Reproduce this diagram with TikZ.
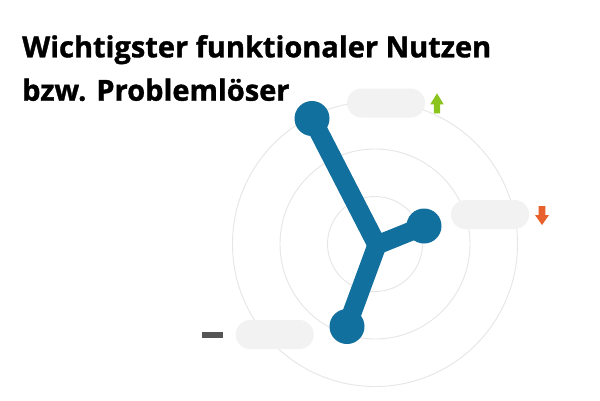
\documentclass[tikz,border=0pt]{standalone}
\usepackage{fontspec}
\setmainfont{Open Sans}
\IfFontExistsTF{Open Sans ExtraBold}
  {\newfontfamily\titlefont{Open Sans ExtraBold}}
  {\newfontfamily\titlefont{Open Sans Bold}[FakeBold=1.2]}
\begin{document}
\begin{tikzpicture}[x=1pt,y=-1pt,
  ring/.style={draw=ringgray,line width=0.9pt},
  dot/.style={circle,fill=dotblue,inner sep=0pt,minimum size=35pt},
  arm/.style={draw=dotblue,line width=19pt,line join=miter},
  pill/.style={rectangle,rounded corners=14.5pt,fill=pillgray,minimum width=78pt,minimum height=29pt,inner sep=0pt},
  title/.style={anchor=base west,inner sep=0pt,font=\titlefont\fontsize{29}{29}\selectfont}]
\definecolor{ringgray}{HTML}{E6E6E6}
\definecolor{dotblue}{HTML}{12709E}
\definecolor{pillgray}{HTML}{F2F2F2}
\definecolor{upgreen}{HTML}{8CC41E}
\definecolor{downorange}{HTML}{E8602C}
\definecolor{dashgray}{HTML}{555555}
\useasboundingbox (0,0) rectangle (600,400);
\fill[white] (0,0) rectangle (600,400);
% title
\node[title] (t1) at (22,57.3) {Wichtigster funktionaler Nutzen};
\node[title] (t2) at (22,100.7) {bzw. Problemlöser};
% rings
\coordinate (c) at (375,244);
\draw[ring] (c) circle[radius=47.5];
\draw[ring] (c) circle[radius=95];
\draw[ring] (c) circle[radius=142.5];
% pills
\node[pill] (p1) at (386,103) {};
\node[pill] (p2) at (490,214.5) {};
\node[pill] (p3) at (274.7,334.5) {};
% dots
\node[dot] (d1) at (312,118.5) {};
\node[dot] (d2) at (424,226) {};
\node[dot] (d3) at (347,326.5) {};
\coordinate (j) at (377,245);
\draw[arm] (d1.center) -- (j) -- (d2.center);
\draw[arm] (j) -- (d3.center);
% indicators
\coordinate (up) at (437,93.3);
\fill[upgreen] (up) -- ++(6.7,11) -- ++(-3.5,0) -- ++(0,9) -- ++(-6.4,0) -- ++(0,-9) -- ++(-3.5,0) -- cycle;
\coordinate (down) at (542,225);
\fill[downorange] (down) -- ++(7,-10) -- ++(-3.6,0) -- ++(0,-9) -- ++(-6.8,0) -- ++(0,9) -- ++(-3.6,0) -- cycle;
\coordinate (dash) at (202.3,331.7);
\fill[dashgray] (dash) rectangle ++(20.7,6);
\end{tikzpicture}
\end{document}
